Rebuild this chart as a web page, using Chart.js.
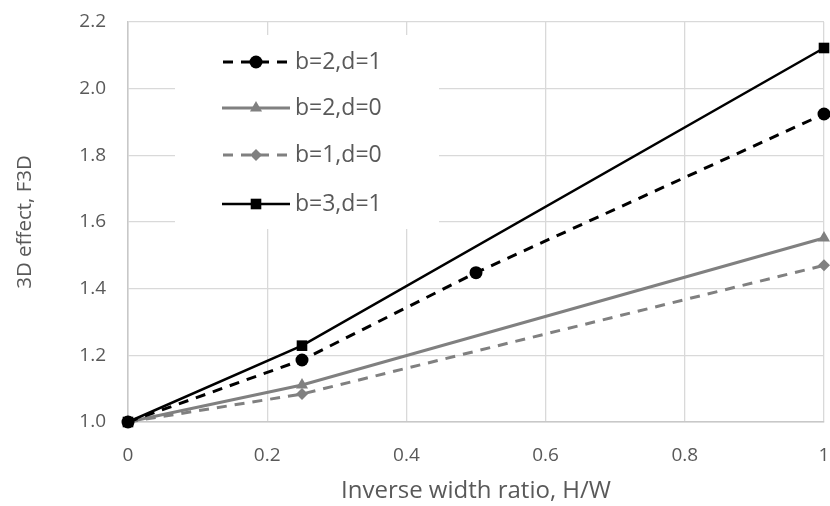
<!DOCTYPE html>
<html>
<head>
<meta charset="utf-8">
<script src="https://cdn.jsdelivr.net/npm/chart.js@4.4.1/dist/chart.umd.min.js"></script>
<style>
  html, body { margin: 0; padding: 0; background: #ffffff; }
  #wrap { width: 830px; height: 506px; }
</style>
</head>
<body>
<div id="wrap"><canvas id="c" width="830" height="506"></canvas></div>
<script>
// ---- data ----
const seriesLabels = ['b=2,d=1', 'b=2,d=0', 'b=1,d=0', 'b=3,d=1'];
const xB2D1 = [0, 0.25, 0.5, 1];
const yB2D1 = [1.0, 1.186, 1.448, 1.924];
const xB2D0 = [0, 0.25, 1];
const yB2D0 = [1.0, 1.111, 1.552];
const xB1D0 = [0, 0.25, 1];
const yB1D0 = [1.0, 1.084, 1.470];
const xB3D1 = [0, 0.25, 1];
const yB3D1 = [1.0, 1.229, 2.122];
const xTickValues = [0, 0.2, 0.4, 0.6, 0.8, 1];
const xTickLabels = ['0', '0.2', '0.4', '0.6', '0.8', '1'];
const yTickValues = [1.0, 1.2, 1.4, 1.6, 1.8, 2.0, 2.2];
const yTickLabels = ['1.0', '1.2', '1.4', '1.6', '1.8', '2.0', '2.2'];
const xTitle = 'Inverse width ratio, H/W';
const yTitle = '3D effect, F3D';

function pts(xs, ys) { return xs.map((x, i) => ({ x: x, y: ys[i] })); }

const FONT = '"Open Sans", "Noto Sans", sans-serif';
const TEXT = '#595959';
const BLACK = '#000000';
const GRAY = '#808080';

const datasets = [
  { label: seriesLabels[0], data: pts(xB2D1, yB2D1), borderColor: BLACK, backgroundColor: BLACK,
    borderWidth: 3, borderDash: [10, 8], pointStyle: 'circle', pointRadius: 6.5, order: 1 },
  { label: seriesLabels[1], data: pts(xB2D0, yB2D0), borderColor: GRAY, backgroundColor: GRAY,
    borderWidth: 3, borderDash: [], pointStyle: 'triangle', pointRadius: 7, order: 2 },
  { label: seriesLabels[2], data: pts(xB1D0, yB1D0), borderColor: GRAY, backgroundColor: GRAY,
    borderWidth: 3, borderDash: [10, 8], pointStyle: 'rectRot', pointRadius: 6, order: 3 },
  { label: seriesLabels[3], data: pts(xB3D1, yB3D1), borderColor: BLACK, backgroundColor: BLACK,
    borderWidth: 2.5, borderDash: [], pointStyle: 'rect', pointRadius: 7.5, order: 0 }
];
datasets.forEach(d => { d.pointBorderWidth = 0; d.pointHoverRadius = d.pointRadius; d.clip = false; d.tension = 0; d.fill = false; });

// custom legend drawn inside the plot area (line sample + marker + text)
const insideLegend = {
  id: 'insideLegend',
  afterDraw(chart) {
    const ctx = chart.ctx;
    const box = { x: 175, y: 35, w: 264, h: 194 };
    const rowY = [62, 108, 155, 204];
    const x0 = 222, x1 = 290, mx = 256, tx = 295;
    ctx.save();
    ctx.fillStyle = '#ffffff';
    ctx.fillRect(box.x, box.y, box.w, box.h);
    chart.data.datasets.forEach((ds, i) => {
      const y = rowY[i];
      ctx.save();
      ctx.strokeStyle = ds.borderColor;
      ctx.lineWidth = ds.borderWidth;
      ctx.setLineDash(ds.borderDash || []);
      if (ds.borderDash && ds.borderDash.length) ctx.lineDashOffset = -1;
      ctx.beginPath();
      ctx.moveTo(x0, y);
      ctx.lineTo(x1, y);
      ctx.stroke();
      ctx.restore();
      ctx.save();
      ctx.fillStyle = ds.backgroundColor;
      ctx.strokeStyle = ds.backgroundColor;
      Chart.helpers.drawPoint(ctx, {
        pointStyle: ds.pointStyle, radius: ds.pointRadius, borderWidth: 0, rotation: 0
      }, mx, y);
      ctx.fillStyle = TEXT;
      ctx.font = '23px ' + FONT;
      ctx.textBaseline = 'middle';
      ctx.textAlign = 'left';
      ctx.fillText(ds.label, tx, y);
      ctx.restore();
    });
    ctx.restore();
  }
};

new Chart(document.getElementById('c'), {
  type: 'line',
  data: { datasets: datasets },
  plugins: [insideLegend],
  options: {
    responsive: false,
    animation: false,
    layout: { autoPadding: false, padding: { left: 0, right: 6, top: 22, bottom: 0 } },
    plugins: { legend: { display: false }, tooltip: { enabled: false } },
    scales: {
      x: {
        type: 'linear', min: 0, max: 1,
        afterBuildTicks: s => { s.ticks = xTickValues.map(v => ({ value: v })); },
        afterFit: s => { s.height = 84; s.paddingLeft = 0; s.paddingRight = 0; },
        ticks: { color: TEXT, font: { family: FONT, size: 19 }, padding: 22,
          maxRotation: 0, callback: (v, i) => xTickLabels[i] },
        grid: { color: '#d9d9d9', lineWidth: 1.3, drawTicks: false },
        border: { color: '#c8c8c8', width: 1.5 },
        title: { display: true, text: xTitle, color: TEXT, font: { family: FONT, size: 24 }, padding: { top: 0, bottom: 0 } }
      },
      y: {
        type: 'linear', min: 1.0, max: 2.2,
        afterBuildTicks: s => { s.ticks = yTickValues.map(v => ({ value: v })); },
        afterFit: s => { s.width = 128; s.paddingTop = 0; s.paddingBottom = 0; },
        ticks: { color: TEXT, font: { family: FONT, size: 19 }, padding: 22,
          callback: (v, i) => yTickLabels[i] },
        grid: { color: '#d9d9d9', lineWidth: 1.3, drawTicks: false },
        border: { color: '#c8c8c8', width: 1.5 },
        title: { display: true, text: yTitle, color: TEXT, font: { family: FONT, size: 20.5 }, padding: { top: 13, bottom: 0 } }
      }
    }
  }
});
</script>
</body>
</html>
